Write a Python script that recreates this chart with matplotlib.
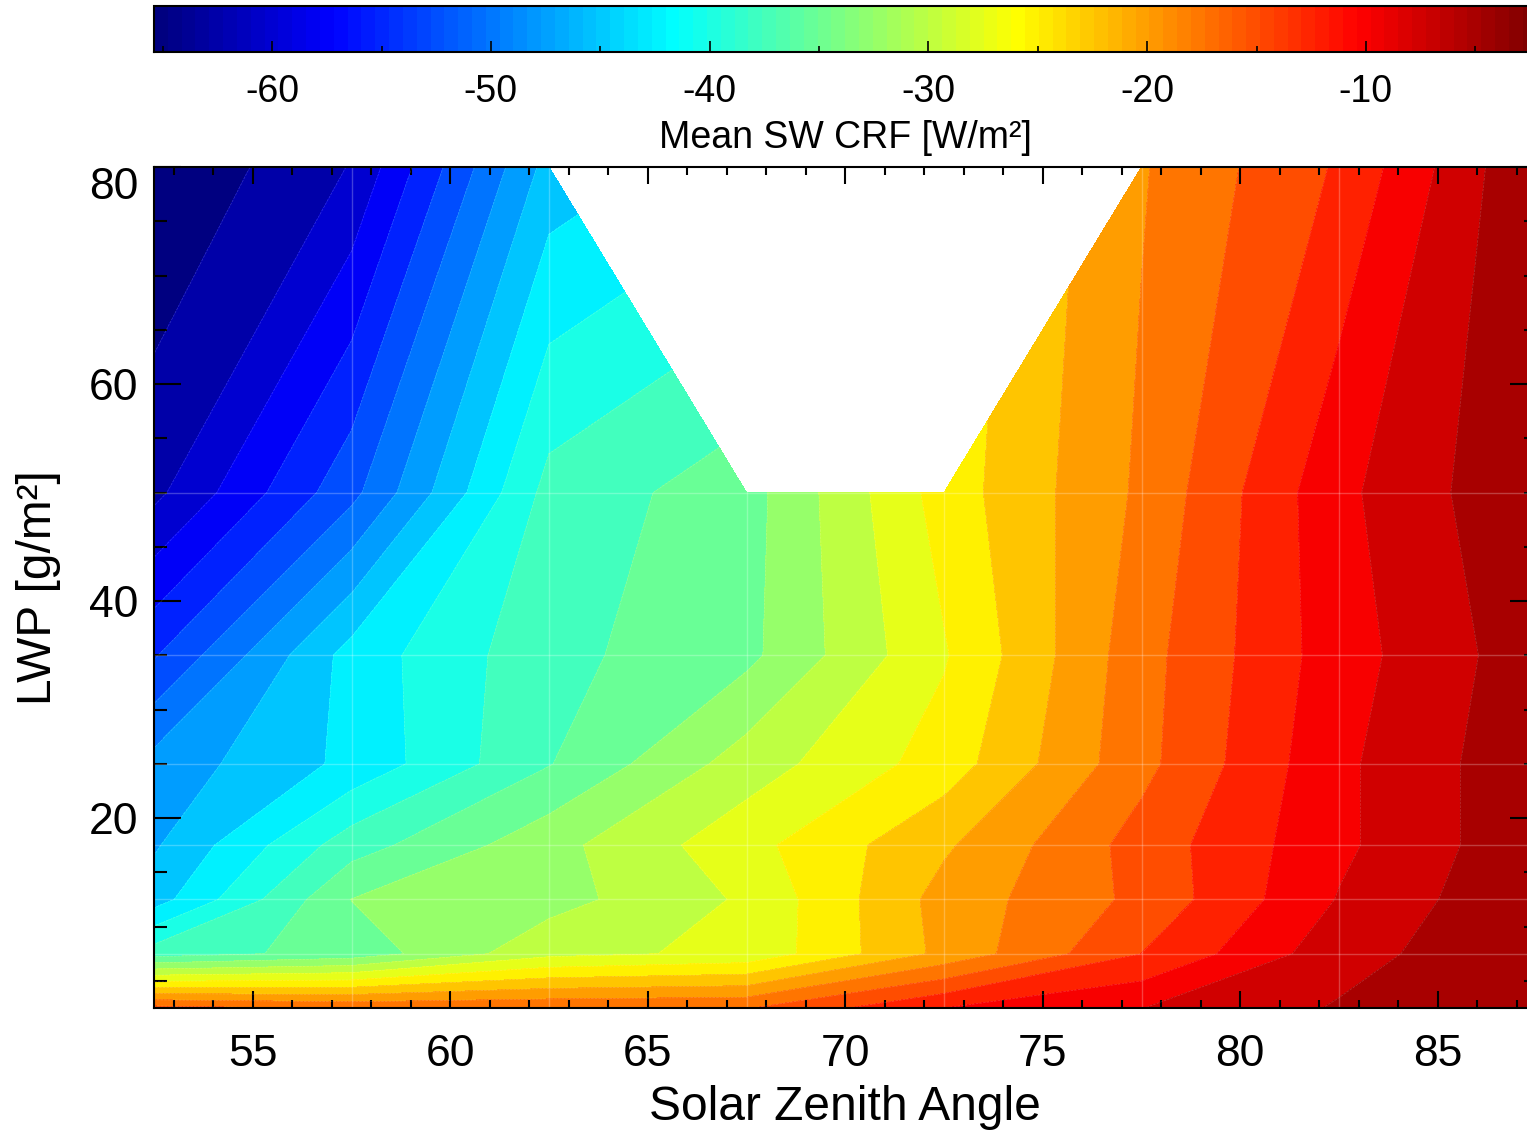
import numpy as np
import matplotlib
matplotlib.use('Agg')
import matplotlib.pyplot as plt
from matplotlib.colors import LinearSegmentedColormap, Normalize
from matplotlib.cm import ScalarMappable
from matplotlib.ticker import MultipleLocator

plt.rcParams['font.family'] = ['Liberation Sans', 'DejaVu Sans']
plt.rcParams['axes.unicode_minus'] = False

# grid of the data: solar zenith angle bins and LWP bins
sza = [52.5, 57.5, 62.5, 67.5, 72.5, 77.5, 82.5, 87.5]
lwp = [2.5, 7.5, 12.5, 17.5, 25, 35, 50, 80]

# mean SW CRF [W/m2], one row per LWP bin (bottom to top), nan = no data
crf = [
    [-14.0, -15.2, -15.2, -15.0, -9.8, -7.3, -4.5, -3.2],
    [-36.3, -34.1, -28.2, -26.9, -19.2, -12.3, -5.7, -2.6],
    [-43.8, -32.5, -31.0, -27.1, -18.9, -14.2, -7.1, -2.4],
    [-45.5, -36.2, -30.9, -25.8, -20.3, -13.8, -7.8, -2.8],
    [-46.8, -42.0, -35.2, -28.8, -23.8, -15.6, -7.8, -2.8],
    [-53.0, -41.6, -35.8, -33.2, -25.2, -15.8, -8.4, -3.2],
    [-61.0, -51.0, -36.7, -33.6, -23.8, -16.9, -7.9, -2.3],
    [-65.4, -60.2, -44.2, np.nan, np.nan, -17.6, -12.0, -2.2],
]

cbar_ticks = [-60, -50, -40, -30, -20, -10]
nlevels = 25

jet_data = {
    'red':   [(0, 0, 0), (0.375, 0, 0), (0.625, 1, 1), (0.875, 1, 1), (1, 0.5, 0.5)],
    'green': [(0, 0, 0), (0.125, 0, 0), (0.375, 1, 1), (0.625, 1, 1), (0.875, 0, 0), (1, 0, 0)],
    'blue':  [(0, 0.5, 0.5), (0.125, 1, 1), (0.375, 1, 1), (0.625, 0, 0), (1, 0, 0)],
}
jet = LinearSegmentedColormap('jet_idl', jet_data, N=256)

Z = np.ma.masked_invalid(np.array(crf, dtype=float))
zmin, zmax = Z.min(), Z.max()
levels = np.linspace(zmin, zmax, nlevels + 1)
band_colors = jet(np.arange(nlevels) / nlevels)

W, H = 1527, 1131
fig = plt.figure(figsize=(W / 100, H / 100), dpi=100)
ax = fig.add_axes([154 / W, (H - 1008) / H, (1536.5 - 154) / W, (1008 - 167) / H])
cax = fig.add_axes([154 / W, (H - 52) / H, (1536.5 - 154) / W, 46 / H])

ax.contourf(sza, lwp, Z, levels=levels, colors=band_colors, corner_mask=True)
ax.contour(sza, lwp, Z, levels=levels[1:-1], colors='white', linewidths=0.5, alpha=0.2,
           corner_mask=True)
for x in sza[1:-1]:
    ax.axvline(x, color='white', lw=1, alpha=0.25)
for y in lwp[1:-1]:
    ax.axhline(y, color='white', lw=1, alpha=0.25)

ax.set_xlim(52.5, 87.5)
ax.set_ylim(2.5, 80)
ax.set_xticks([55, 60, 65, 70, 75, 80, 85])
ax.set_yticks([20, 40, 60, 80])
ax.xaxis.set_minor_locator(MultipleLocator(1))
ax.yaxis.set_minor_locator(MultipleLocator(5))
ax.tick_params(which='both', direction='in', top=True, right=True, width=1.5, labelsize=32)
ax.tick_params(axis='x', which='major', length=12, pad=19)
ax.tick_params(axis='x', which='minor', length=6)
ax.tick_params(axis='y', which='major', length=19.5, pad=11)
ax.tick_params(axis='y', which='minor', length=9.5)
ax.get_yticklabels()[-1].set_verticalalignment('top')
for s in ax.spines.values():
    s.set_linewidth(1.5)
ax.set_xlabel('Solar Zenith Angle', fontsize=34.5, labelpad=7)
ax.set_ylabel('LWP [g/m²]', fontsize=34.5, labelpad=20)

sm = ScalarMappable(norm=Normalize(zmin, zmax), cmap=jet.resampled(100))
cb = fig.colorbar(sm, cax=cax, orientation='horizontal')
cb.set_ticks(cbar_ticks)
cax.xaxis.set_minor_locator(MultipleLocator(5))
cax.tick_params(which='both', direction='in', bottom=True, top=False, width=1.2, labelsize=27, pad=16)
cax.tick_params(which='major', length=8)
cax.tick_params(which='minor', length=4)
cb.outline.set_linewidth(1.5)
cb.set_label('Mean SW CRF [W/m²]', fontsize=27, labelpad=7)

fig.savefig('out.png', dpi=100)
